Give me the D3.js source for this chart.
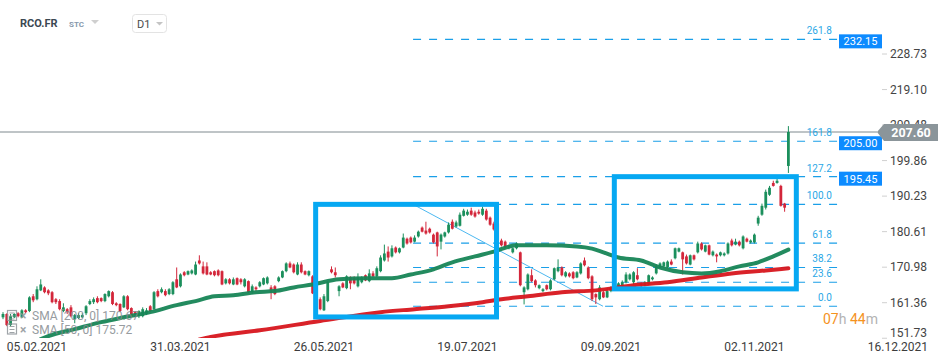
<!DOCTYPE html>
<html>
<head>
<meta charset="utf-8">
<script src="https://cdn.jsdelivr.net/npm/d3@7"></script>
<style>
  body { margin: 0; background: #fff; font-family: Roboto, "Noto Sans", sans-serif; }
  svg { display: block; }
</style>
</head>
<body>
<div id="chart"></div>
<script>
// daily candles, [open, high, low, close]
const candles = [
  [157.4,158.8,156.9,158.3],[158.3,158.5,155.0,155.3],[155.3,158.3,155.0,157.7],[157.4,158.5,157.2,158.3],[158.5,158.8,157.4,157.7],
  [157.4,159.6,157.2,159.3],[159.3,159.6,158.5,158.8],[159.1,163.1,158.8,162.8],[163.1,163.7,161.5,162.0],[162.3,165.8,162.0,165.0],
  [164.7,167.7,164.5,166.3],[165.5,165.8,163.9,164.2],[164.7,165.0,163.4,163.9],[164.2,164.5,161.2,161.5],[162.3,162.6,161.0,161.5],
  [161.8,162.3,159.3,159.6],[159.1,161.2,158.8,160.1],[159.6,159.9,158.3,158.8],[160.1,160.7,157.4,157.7],[156.9,158.3,155.8,158.0],
  [157.2,158.5,156.9,158.0],[157.4,158.5,157.2,158.0],[158.5,160.7,158.0,160.4],[161.0,162.3,160.7,161.8],[161.5,162.8,161.0,162.3],
  [162.6,163.1,161.2,161.5],[162.6,162.8,161.5,161.8],[161.8,163.9,161.5,163.7],[163.1,164.7,162.8,164.5],[164.2,164.5,160.7,161.0],
  [161.2,161.5,160.4,160.7],[161.0,161.2,158.8,159.1],[160.1,163.4,159.9,163.1],[163.1,163.4,159.3,159.6],[159.9,160.1,157.4,157.7],
  [158.8,159.1,157.4,158.0],[157.7,159.3,157.2,159.1],[157.7,160.1,157.4,159.6],[158.3,159.9,158.0,159.3],[160.4,160.7,158.8,159.1],
  [159.6,164.5,159.3,164.2],[164.5,165.0,162.8,163.1],[164.2,165.5,163.9,165.0],[164.5,165.0,163.1,163.4],[163.7,165.3,163.4,165.0],
  [163.7,167.2,163.4,166.9],[167.7,170.9,165.3,165.5],[165.8,169.3,165.5,169.0],[169.6,169.9,168.5,168.8],[169.0,170.1,168.8,169.9],
  [169.3,170.4,169.0,170.1],[169.0,172.5,168.8,171.7],[172.8,174.2,171.7,172.0],[171.2,172.5,169.0,169.3],[171.2,172.3,168.8,169.0],
  [169.6,169.9,168.8,169.0],[169.9,170.1,168.5,168.8],[170.1,170.4,168.5,168.8],[169.9,170.1,166.1,166.3],[166.6,168.0,166.3,167.7],
  [167.7,168.0,166.3,166.6],[166.3,168.2,166.1,167.7],[168.0,168.2,166.1,166.3],[167.7,168.0,166.3,166.9],[165.8,168.0,165.5,167.7],
  [167.2,167.4,163.9,164.2],[164.2,166.3,163.7,165.8],[165.5,165.8,164.5,165.0],[165.8,167.2,165.5,166.9],[166.3,168.2,166.1,168.0],
  [166.6,168.5,166.3,168.2],[165.5,166.1,162.3,164.2],[165.8,166.1,163.4,163.7],[167.2,168.5,166.9,168.2],[168.2,170.1,168.0,169.9],
  [169.9,172.3,169.6,172.0],[172.0,172.5,170.7,170.9],[171.7,172.0,169.3,169.6],[169.0,172.3,168.8,171.7],[171.7,172.3,169.3,169.6],
  [169.9,170.1,168.8,169.0],[168.8,170.1,168.5,169.9],[168.5,168.8,163.7,163.9],[163.4,163.9,161.0,161.2],[162.3,162.8,159.3,159.6],
  [159.3,163.7,159.1,163.1],[161.8,167.2,161.5,166.9],[170.4,171.2,169.3,169.6],[169.6,170.9,168.2,168.8],[164.5,166.1,163.1,165.8],
  [166.6,166.9,165.3,165.5],[165.3,168.8,165.0,168.5],[168.2,168.5,165.0,166.6],[168.0,168.5,166.3,166.6],[165.8,169.3,165.5,168.2],
  [166.9,168.5,166.6,168.2],[168.8,169.0,167.2,167.4],[167.2,170.4,166.9,169.3],[169.3,169.9,168.2,168.5],[168.5,171.2,168.2,170.7],
  [169.9,174.2,169.6,173.6],[172.8,177.1,172.5,174.7],[175.2,176.6,172.5,173.6],[173.9,176.9,173.6,176.1],[176.3,176.6,174.7,175.0],
  [175.0,176.3,174.7,176.1],[176.3,180.1,176.1,179.0],[178.7,179.0,177.1,177.4],[179.0,179.3,177.4,177.7],[177.9,179.6,177.7,179.0],
  [179.3,180.9,179.0,180.6],[181.7,182.0,180.4,180.6],[180.9,183.3,179.8,180.1],[181.4,181.7,180.1,180.4],[179.8,180.1,177.4,177.7],
  [180.4,180.6,173.9,176.6],[177.9,180.1,175.8,179.8],[179.3,180.6,179.0,180.4],[180.4,183.1,180.1,182.5],[183.3,183.9,181.2,181.4],
  [182.0,183.6,181.7,183.1],[182.2,185.8,182.0,185.2],[184.9,186.8,184.7,186.3],[185.2,186.6,184.9,186.0],[186.3,187.1,184.9,185.2],
  [185.8,186.3,184.4,184.7],[186.0,186.6,185.2,185.5],[185.2,187.4,184.9,186.8],[186.3,186.8,183.6,183.9],[184.4,184.7,182.2,182.5],
  [182.8,183.3,180.9,181.2],[182.8,183.1,177.7,177.9],[178.2,178.7,176.6,176.9],[177.9,178.2,176.1,176.3],[176.3,177.1,175.8,176.9],
  [175.0,176.3,174.7,176.1],[176.1,177.7,175.8,177.4],[175.0,175.2,165.8,166.1],[164.2,165.8,160.9,165.5],[165.0,169.3,164.7,169.0],
  [168.8,170.4,166.9,167.2],[167.4,167.7,165.5,166.1],[165.3,166.3,165.0,166.1],[164.5,165.3,164.2,165.0],[166.1,166.3,164.7,165.0],
  [165.0,167.7,164.7,167.4],[167.7,170.9,167.4,170.7],[169.9,173.1,169.6,170.9],[170.9,171.2,168.5,168.8],[168.5,169.9,168.2,169.6],
  [169.3,169.6,168.2,168.5],[169.6,169.9,167.7,168.0],[168.2,169.9,168.0,169.6],[169.3,172.3,169.0,172.0],[172.8,173.6,171.2,171.5],
  [170.9,171.2,167.7,168.0],[168.5,168.8,161.8,162.3],[163.7,163.9,161.0,162.8],[162.3,166.1,162.0,165.5],[164.2,164.5,162.6,162.8],
  [162.8,165.3,162.6,164.5],[164.5,165.8,164.2,165.5],[165.0,166.3,164.7,166.1],[165.8,166.9,165.5,166.6],[165.8,167.4,165.5,166.9],
  [166.9,169.6,166.6,169.0],[167.7,169.3,167.4,169.0],[166.9,169.9,166.3,169.6],[168.8,170.7,167.4,167.7],[166.6,166.9,165.0,166.1],
  [166.1,167.2,165.8,166.9],[166.3,169.0,166.1,168.8],[167.7,168.5,167.4,168.2],[169.3,171.7,169.0,171.2],[170.9,172.3,170.7,172.0],
  [171.2,172.5,170.9,172.3],[170.9,172.8,170.7,172.5],[172.5,173.1,171.5,171.7],[173.4,176.3,173.1,176.1],[175.2,176.3,175.0,176.1],
  [175.0,175.2,169.0,173.1],[173.9,174.4,171.7,172.0],[171.7,174.4,171.5,174.2],[174.2,174.4,172.8,173.1],[175.0,177.9,174.7,177.4],
  [177.4,177.7,175.5,175.8],[175.2,177.1,175.0,176.9],[176.9,177.1,174.2,174.4],[174.2,175.5,173.9,175.2],[174.4,174.7,172.3,173.9],
  [174.2,175.2,173.9,175.0],[174.2,175.0,173.9,174.7],[174.7,177.7,174.4,177.4],[178.2,178.7,176.6,176.9],[177.1,178.7,176.9,177.9],
  [177.9,178.2,176.6,176.9],[176.1,179.6,175.8,179.3],[178.7,179.0,177.7,177.9],[177.7,178.5,177.4,178.2],[177.7,180.1,177.4,179.8],
  [182.8,184.9,182.2,184.4],[185.2,188.2,184.9,187.6],[187.1,192.0,186.6,191.4],[190.6,193.0,190.3,192.5],[193.8,194.4,192.8,193.0],
  [193.8,195.2,193.6,194.4],[193.0,193.3,187.4,187.6],[188.2,188.4,186.0,187.1],[198.4,209.2,196.5,207.6]
];

const dateTickIdx    = [9, 47, 85, 123, 161, 199, 237];
const dateTickLabels = ["05.02.2021", "31.03.2021", "26.05.2021", "19.07.2021", "09.09.2021", "02.11.2021", "16.12.2021"];
const priceTicks     = [228.73, 219.10, 209.48, 199.86, 190.23, 180.61, 170.98, 161.36, 151.73];

const sma50Idx  = [10, 12, 19, 26, 32, 39, 46, 51, 56, 61, 67, 72, 77, 82, 89, 96, 103, 108, 114, 119, 125, 130, 136, 144, 152, 156, 159, 163, 169, 174, 180, 185, 190, 195, 200, 204, 208];
const sma50Val  = [151.5, 152.3, 154.2, 156.1, 157.4, 158.8, 160.7, 161.8, 163.1, 163.4, 164.2, 164.5, 165.5, 166.3, 167.7, 168.0, 168.0, 169.0, 170.4, 172.3, 173.9, 175.2, 176.9, 176.9, 176.6, 176.0, 175.0, 173.6, 172.8, 170.9, 169.6, 169.3, 169.9, 171.2, 172.3, 173.9, 175.72];
const sma200Idx = [52, 55, 68, 84, 100, 109, 118, 127, 132, 139, 148, 157, 167, 176, 185, 193, 202, 208];
const sma200Val = [151.4, 152.1, 153.9, 156.4, 158.8, 159.6, 160.4, 161.5, 162.3, 163.1, 164.2, 164.7, 166.1, 166.9, 168.2, 169.3, 170.1, 170.67];

// fibonacci tool
const fibLabels = ["0.0", "23.6", "38.2", "61.8", "100.0", "127.2", "161.8", "261.8"];
const fibPrices = [160.4, 166.9, 170.9, 177.5, 188.0, 195.5, 205.1, 232.7];
const fibStartIdx = 108.6, fibEndIdx = 221.1;
const trendFrom = [108.6, 188.0], trendTo = [158.9, 160.4];
const tagLabels = ["232.15", "205.00", "195.45"];
const tagPrices = [232.7, 205.1, 195.5];

// highlight boxes: [startIdx, endIdx, topPrice, bottomPrice]
const boxes = [[82.8, 130.7, 188.0, 157.5], [161.9, 210.1, 195.5, 165.1]];

const lastPrice = 207.60;
const legendRows = ["SMA [200, 0] 170.67", "SMA [50, 0] 175.72"];

const W = 950, H = 364;
const axisX = 884, plotBottom = 338;
const GREEN = "#1b8f5c", RED = "#d3263a";

const svg = d3.select("#chart").append("svg").attr("width", W).attr("height", H);

const xS = d3.scaleLinear().domain([0, 237]).range([3, 897.9]);
const yS = d3.scaleLinear().domain([161.36, 228.73]).range([302.7, 54]);

svg.append("clipPath").attr("id", "plot").append("rect")
   .attr("x", 0).attr("y", 0).attr("width", axisX - 4).attr("height", plotBottom);
const plot = svg.append("g").attr("clip-path", "url(#plot)");

// current price line
plot.append("line")
   .attr("x1", 0).attr("x2", axisX - 7).attr("y1", yS(lastPrice)).attr("y2", yS(lastPrice))
   .attr("stroke", "#7e898e").attr("stroke-width", 1);

// fib levels
fibPrices.forEach((p, k) => {
  plot.append("line")
     .attr("x1", xS(fibStartIdx)).attr("x2", xS(fibEndIdx)).attr("y1", yS(p)).attr("y2", yS(p))
     .attr("stroke", "#1a9fe8").attr("stroke-width", 1.2).attr("stroke-dasharray", "8,8");
  plot.append("text")
     .attr("x", xS(fibEndIdx) - 6).attr("y", yS(p) - 5).attr("text-anchor", "end")
     .attr("font-size", "10px").attr("fill", "#2aa7e6").text(fibLabels[k]);
});
plot.append("line")
   .attr("x1", xS(trendFrom[0])).attr("y1", yS(trendFrom[1]))
   .attr("x2", xS(trendTo[0])).attr("y2", yS(trendTo[1]))
   .attr("stroke", "#4cb8f0").attr("stroke-width", 1);

// candles
const cw = 2.8;
candles.forEach((d, i) => {
  const [o, h, l, c] = d;
  const col = c >= o ? GREEN : RED;
  const x = xS(i);
  plot.append("line").attr("x1", x).attr("x2", x).attr("y1", yS(h)).attr("y2", yS(l))
     .attr("stroke", col).attr("stroke-width", 1);
  const top = yS(Math.max(o, c)), bot = yS(Math.min(o, c));
  plot.append("rect").attr("x", x - cw / 2).attr("y", top)
     .attr("width", cw).attr("height", Math.max(1, bot - top)).attr("fill", col);
});

// moving averages
const line = d3.line().x(d => xS(d[0])).y(d => yS(d[1])).curve(d3.curveMonotoneX);
plot.append("path").datum(sma200Idx.map((v, k) => [v, sma200Val[k]])).attr("d", line)
   .attr("fill", "none").attr("stroke", "#d7161d").attr("stroke-width", 4).attr("stroke-linecap", "round").attr("opacity", 0.95);
plot.append("path").datum(sma50Idx.map((v, k) => [v, sma50Val[k]])).attr("d", line)
   .attr("fill", "none").attr("stroke", "#178556").attr("stroke-width", 4).attr("stroke-linecap", "round").attr("opacity", 0.95);

// highlight boxes
boxes.forEach(b => {
  svg.append("rect")
     .attr("x", xS(b[0])).attr("y", yS(b[2]))
     .attr("width", xS(b[1]) - xS(b[0])).attr("height", yS(b[3]) - yS(b[2]))
     .attr("fill", "none").attr("stroke", "#06a8f2").attr("stroke-width", 5);
});

// price axis
priceTicks.forEach(t => {
  const y = Math.min(yS(t), 333);
  svg.append("line").attr("x1", axisX - 2).attr("x2", axisX + 3).attr("y1", yS(t)).attr("y2", yS(t))
     .attr("stroke", "#d0d0d0").attr("stroke-width", 1);
  svg.append("text").attr("x", axisX + 6).attr("y", y + 4)
     .attr("font-size", "12px").attr("fill", "#444").text(t.toFixed(2));
});

// fib tags on the right
tagPrices.forEach((p, k) => {
  const y = yS(p);
  svg.append("rect").attr("x", axisX - 45).attr("y", y - 5).attr("width", 43).attr("height", 14).attr("fill", "#0d8bff");
  svg.append("text").attr("x", axisX - 23.5).attr("y", y + 6).attr("text-anchor", "middle")
     .attr("font-size", "11px").attr("fill", "#fff").text(tagLabels[k]);
});

// last price tag
const yp = yS(lastPrice);
svg.append("path")
   .attr("d", `M${axisX - 7},${yp} L${axisX},${yp - 8} L${axisX + 54},${yp - 8} L${axisX + 54},${yp + 9} L${axisX},${yp + 9} Z`)
   .attr("fill", "#8b959a");
svg.append("text").attr("x", axisX + 27).attr("y", yp + 5).attr("text-anchor", "middle")
   .attr("font-size", "12.5px").attr("font-weight", "bold").attr("fill", "#fff").text(lastPrice.toFixed(2));

// date axis
dateTickIdx.forEach((idx, k) => {
  svg.append("text").attr("x", xS(idx)).attr("y", 351).attr("text-anchor", "middle")
     .attr("font-size", "12px").attr("fill", "#3c3c3c").text(dateTickLabels[k]);
});

// countdown
const cd = svg.append("text").attr("x", 823).attr("y", 324).attr("font-size", "14px");
cd.append("tspan").attr("fill", "#f5921e").text("07");
cd.append("tspan").attr("fill", "#b3b3b3").text("h ");
cd.append("tspan").attr("fill", "#f5921e").text("44");
cd.append("tspan").attr("fill", "#b3b3b3").text("m");

// indicator legend
legendRows.forEach((txt, k) => {
  const y = 320 + k * 13.5;
  const g = svg.append("g").attr("opacity", 0.85);
  g.append("rect").attr("x", 7.5).attr("y", y - 9.5).attr("width", 9).attr("height", 10)
     .attr("fill", "none").attr("stroke", "#8f9599").attr("stroke-width", 1.2);
  [0, 3, 6].forEach(dy => g.append("line").attr("x1", 9.5).attr("x2", 14.5)
     .attr("y1", y - 7 + dy).attr("y2", y - 7 + dy).attr("stroke", "#8f9599").attr("stroke-width", 1));
  g.append("text").attr("x", 20).attr("y", y).attr("font-size", "12px").attr("font-weight", "bold").attr("fill", "#8f9599").text("×");
  g.append("text").attr("x", 32).attr("y", y).attr("font-size", "12px").attr("fill", "#858b90").text(txt);
});

// header
svg.append("text").attr("x", 20).attr("y", 27).attr("font-size", "11px").attr("font-weight", "bold")
   .attr("fill", "#3b4852").text("RCO.FR");
svg.append("text").attr("x", 69).attr("y", 27).attr("font-size", "8px").attr("font-weight", "bold")
   .attr("fill", "#8799ad").text("STC");
svg.append("path").attr("d", "M91,20 L99,20 L95,24 Z").attr("fill", "#cfcfcf");
svg.append("rect").attr("x", 132.5).attr("y", 14.5).attr("width", 34).attr("height", 18).attr("rx", 3)
   .attr("fill", "#fff").attr("stroke", "#e3e3e3");
svg.append("text").attr("x", 137).attr("y", 27.5).attr("font-size", "11px").attr("fill", "#4a4a4a").text("D1");
svg.append("path").attr("d", "M156,22 L163,22 L159.5,25.5 Z").attr("fill", "#c4c4c4");
</script>
</body>
</html>
